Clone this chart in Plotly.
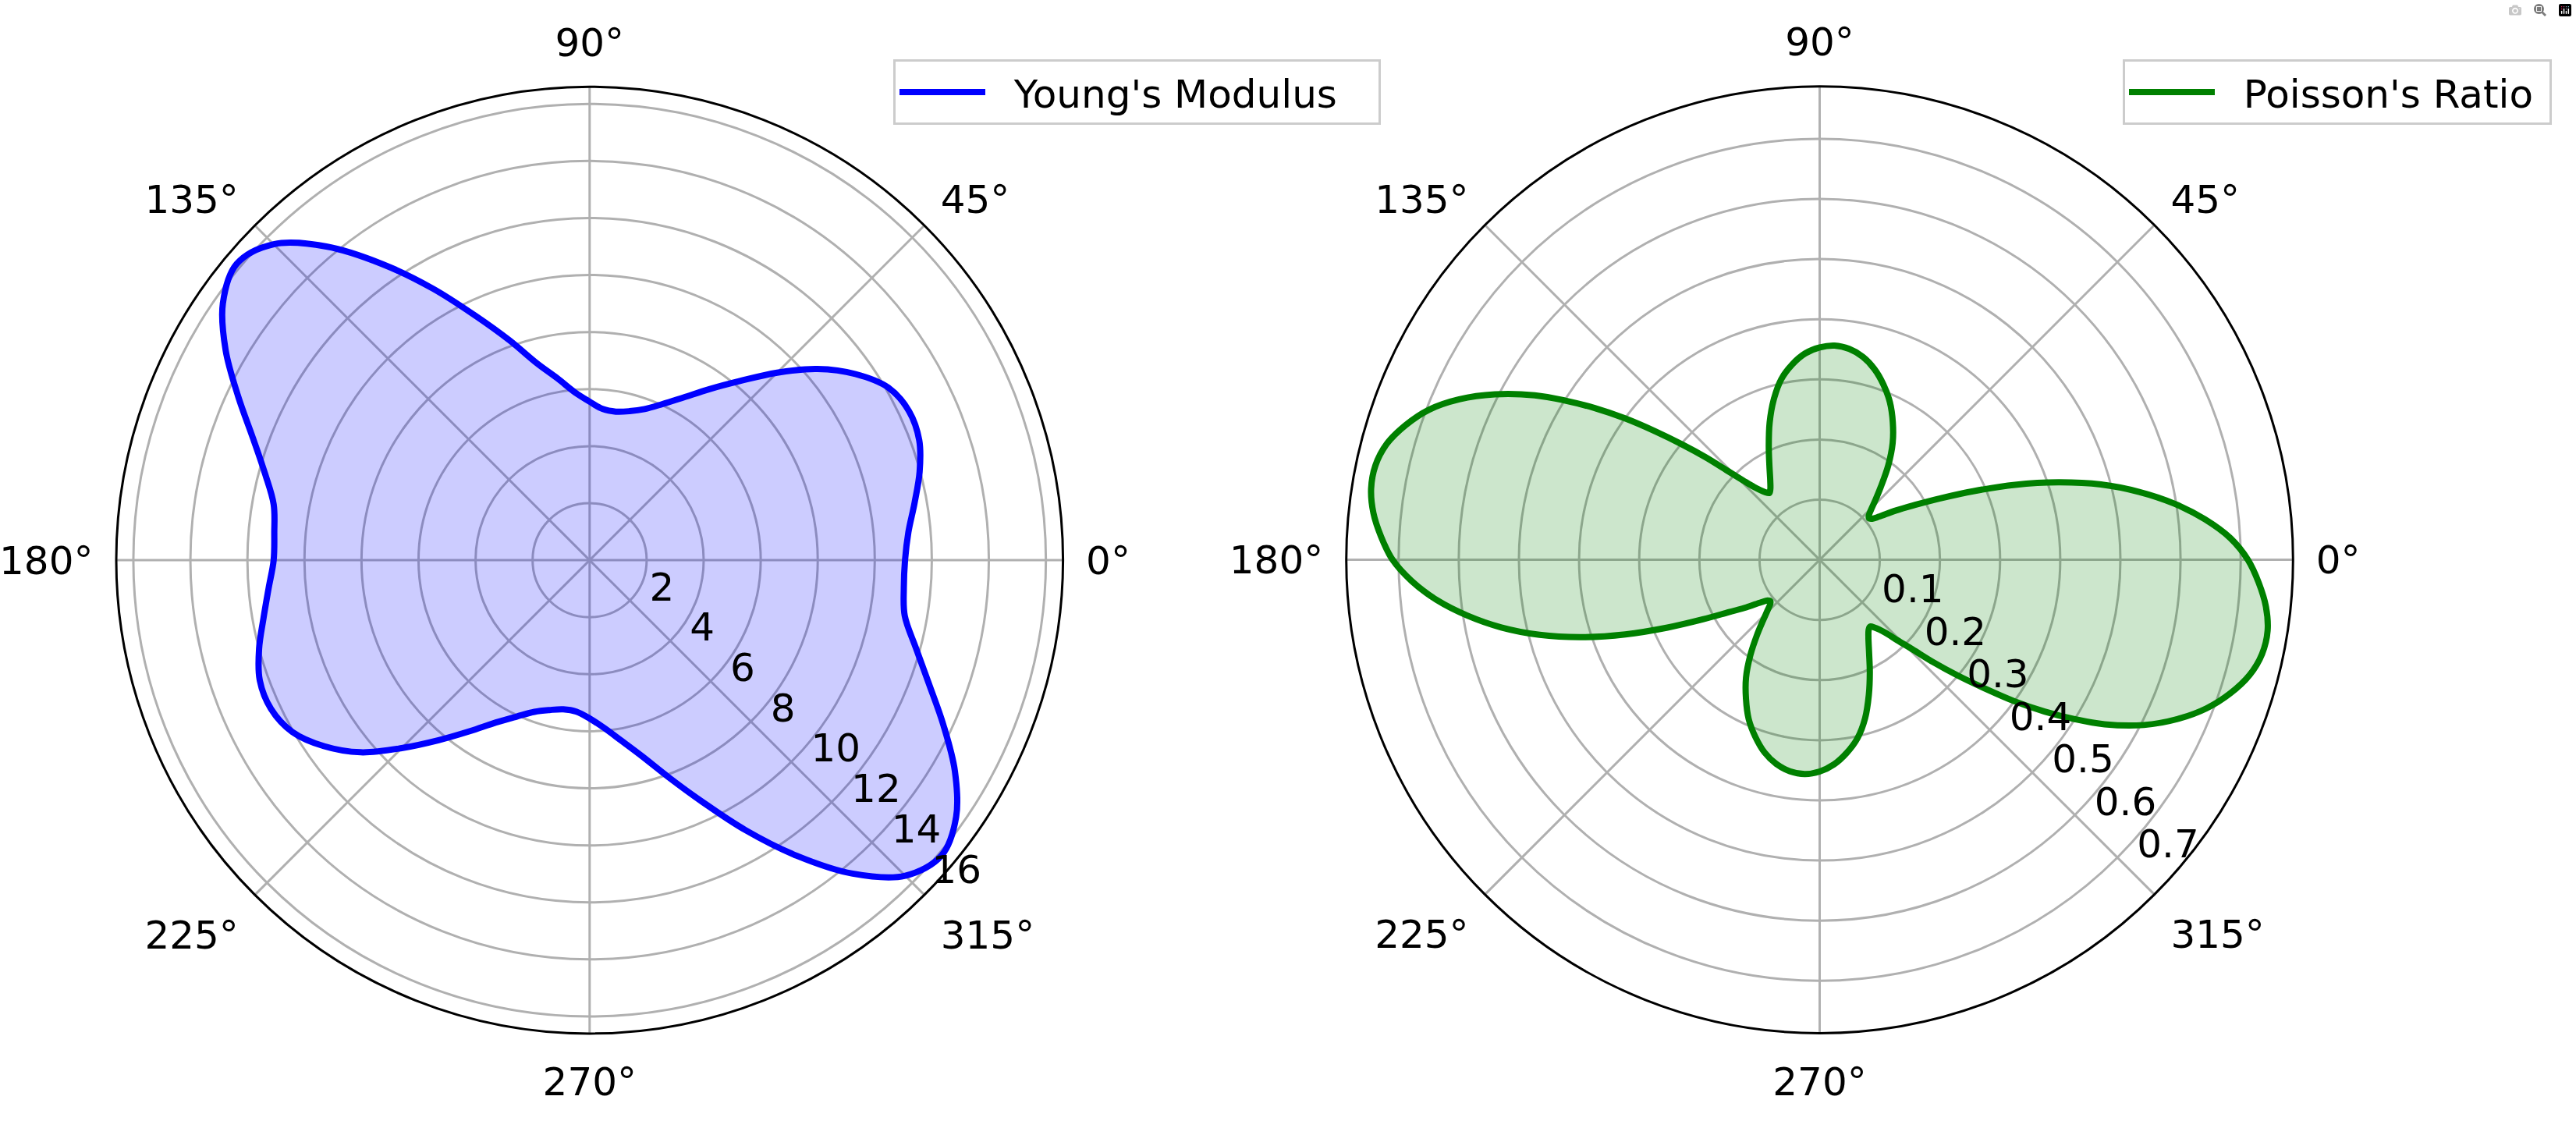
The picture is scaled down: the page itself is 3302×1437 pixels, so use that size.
import plotly.graph_objects as go

# ---------------- data ----------------
# Young's Modulus, every 5 degrees (0..355)
theta_E = list(range(0, 360, 5))
E_vals = [11.06, 11.22, 11.57, 11.98, 12.30, 12.36, 12.10, 11.38, 10.43, 9.30,
          8.20, 7.32, 6.59, 6.04, 5.64, 5.41, 5.29, 5.32, 5.56, 5.91,
          6.47, 7.15, 8.20, 9.45, 11.00, 12.68, 14.36, 15.67, 16.16, 15.70,
          14.74, 13.60, 12.57, 11.79, 11.25, 11.10,
          11.08, 11.30, 11.61, 12.00, 12.31, 12.33, 12.04, 11.37, 10.48, 9.32,
          8.24, 7.32, 6.57, 6.05, 5.66, 5.44, 5.31, 5.33, 5.55, 5.91,
          6.43, 7.12, 8.10, 9.35, 10.93, 12.65, 14.35, 15.65, 16.11, 15.69,
          14.79, 13.69, 12.66, 11.84, 11.22, 11.06]

# Poisson's Ratio (denser sampling near the sharp notches)
theta_nu = [0, 3, 6, 9, 12, 15, 18, 21, 24, 27, 30, 33, 36, 38, 40, 42, 44, 47, 50,
            54, 58, 62, 66, 70, 74, 78, 82, 86, 90, 94, 98, 102, 106, 110, 114, 118, 122,
            125, 127, 129, 132, 134, 136, 138, 140, 142, 144, 146, 148, 150,
            153, 156, 159, 162, 165, 168, 171, 174, 177,
            180, 183, 186, 189, 192, 195, 198, 201, 204, 207, 210, 213, 216, 218, 220, 222, 224, 227, 230,
            234, 238, 242, 246, 250, 254, 258, 262, 266, 270, 274, 278, 282, 286, 290, 294, 298, 302,
            305, 307, 309, 312, 314, 316, 318, 320, 322, 324, 326, 328, 330,
            333, 336, 339, 342, 345, 348, 351, 354, 357]
nu_vals = [0.712, 0.684, 0.644, 0.597, 0.543, 0.484, 0.417, 0.348, 0.281, 0.225, 0.182, 0.150, 0.122,
           0.111, 0.107, 0.110, 0.118, 0.136, 0.158,
           0.194, 0.229, 0.259, 0.287, 0.310, 0.330, 0.345, 0.354, 0.357, 0.353, 0.344, 0.328, 0.307,
           0.277, 0.243, 0.208, 0.178, 0.155,
           0.143, 0.139, 0.145, 0.163, 0.184, 0.213, 0.254, 0.298, 0.347, 0.400, 0.451, 0.500, 0.547,
           0.606, 0.656, 0.696, 0.724, 0.745, 0.755, 0.755, 0.746, 0.730,
           0.710, 0.679, 0.640, 0.593, 0.541, 0.482, 0.416, 0.346, 0.277, 0.218, 0.174, 0.145, 0.120,
           0.110, 0.107, 0.111, 0.120, 0.138, 0.161,
           0.196, 0.231, 0.261, 0.290, 0.313, 0.333, 0.347, 0.355, 0.357, 0.352, 0.341, 0.324, 0.303,
           0.274, 0.239, 0.205, 0.175, 0.153,
           0.142, 0.139, 0.145, 0.163, 0.186, 0.214, 0.255, 0.299, 0.346, 0.400, 0.451, 0.500, 0.547,
           0.605, 0.651, 0.689, 0.718, 0.740, 0.752, 0.754, 0.746, 0.731]

E_ticks = [2, 4, 6, 8, 10, 12, 14, 16]
nu_ticks = [0.1, 0.2, 0.3, 0.4, 0.5, 0.6, 0.7]
ang_ticks = [0, 45, 90, 135, 180, 225, 270, 315]
E_rmax = 16.6
nu_rmax = 0.787
E_label = "Young's Modulus"
nu_label = "Poisson's Ratio"

FONT = "DejaVu Sans"
FS = 50
NB = "\u00a0"   # padding inside the legend boxes


def closed(a):
    return list(a) + [a[0]]


fig = go.Figure()

# Young's modulus
fig.add_trace(go.Scatterpolar(r=closed(E_vals), theta=closed(theta_E), mode="lines",
                              fill="toself", fillcolor="rgba(0,0,255,0.2)",
                              line=dict(width=0, shape="spline", color="rgba(0,0,255,0)"),
                              showlegend=False, hoverinfo="skip", subplot="polar"))
fig.add_trace(go.Scatterpolar(r=closed(E_vals), theta=closed(theta_E), mode="lines",
                              name=NB * 2 + E_label + NB * 3,
                              line=dict(width=8, shape="spline", color="#0000ff"),
                              subplot="polar", legend="legend"))

# Poisson's ratio
fig.add_trace(go.Scatterpolar(r=closed(nu_vals), theta=closed(theta_nu), mode="lines",
                              fill="toself", fillcolor="rgba(0,128,0,0.2)",
                              line=dict(width=0, shape="spline", color="rgba(0,128,0,0)"),
                              showlegend=False, hoverinfo="skip", subplot="polar2"))
fig.add_trace(go.Scatterpolar(r=closed(nu_vals), theta=closed(theta_nu), mode="lines",
                              name=NB * 2 + nu_label + NB,
                              line=dict(width=8, shape="spline", color="#008000"),
                              subplot="polar2", legend="legend2"))

W, H = 3302, 1437
R = 606.8


def dom(cx, cy):
    return dict(x=[(cx - R) / W, (cx + R) / W],
                y=[(H - cy - R) / H, (H - cy + R) / H])


def polar_layout(cx, cy, rmax, ticks, fmt):
    return dict(
        domain=dom(cx, cy),
        bgcolor="white",
        radialaxis=dict(range=[0, rmax], tickmode="array", tickvals=ticks,
                        ticktext=[fmt(t) for t in ticks],
                        angle=315, side="counterclockwise", tickangle=-45,
                        showline=False, ticks="",
                        gridcolor="#b0b0b0", gridwidth=3,
                        tickfont=dict(family=FONT, size=FS, color="black")),
        angularaxis=dict(rotation=0, direction="counterclockwise",
                         tickmode="array", tickvals=ang_ticks,
                         ticktext=[f"{a}°" for a in ang_ticks],
                         showline=True, linecolor="black", linewidth=3,
                         ticks="outside", ticklen=18, tickcolor="rgba(0,0,0,0)",
                         gridcolor="#b0b0b0", gridwidth=3,
                         tickfont=dict(family=FONT, size=FS, color="black")),
    )


legend_style = dict(yanchor="top", xanchor="left", y=1 - 76 / H,
                    bgcolor="rgba(255,255,255,0.8)", bordercolor="#cccccc", borderwidth=3,
                    itemwidth=110,
                    font=dict(family=FONT, size=FS, color="black"))

fig.update_layout(
    width=W, height=H,
    margin=dict(l=0, r=0, t=0, b=0),
    paper_bgcolor="white",
    font=dict(family=FONT, size=FS, color="black"),
    polar=polar_layout(755.8, 718.1, E_rmax, E_ticks, lambda t: f"{t}"),
    polar2=polar_layout(2332.5, 717.6, nu_rmax, nu_ticks, lambda t: f"{t:.1f}"),
    legend=dict(x=1145 / W, **legend_style),
    legend2=dict(x=2721 / W, **legend_style),
)

fig.write_html("out.html",
               post_script="document.body.style.margin='0';document.body.style.overflow='hidden';")
